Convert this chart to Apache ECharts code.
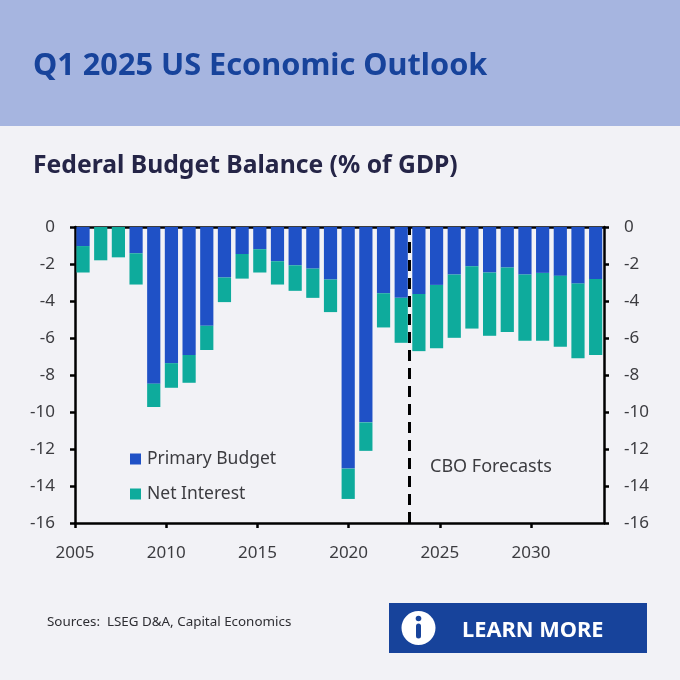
<!DOCTYPE html>
<html><head><meta charset="utf-8">
<style>html,body{margin:0;padding:0;background:#f2f2f6}#c{width:680px;height:680px}</style>
<script src="https://cdn.jsdelivr.net/npm/echarts@6/dist/echarts.min.js"></script>
</head><body><div id="c"></div>
<script>
const periods = ['b01','b02','b03','b04','b05','b06','b07','b08','b09','b10','b11','b12','b13','b14','b15','b16','b17','b18','b19','b20','b21','b22','b23','b24','b25','b26','b27','b28','b29','b30'];
const primaryBudget = [-1.03,0,0,-1.42,-8.47,-7.36,-6.92,-5.34,-2.73,-1.46,-1.2,-1.85,-2.07,-2.25,-2.84,-13.06,-10.56,-3.58,-3.83,-3.62,-3.13,-2.57,-2.12,-2.46,-2.19,-2.57,-2.48,-2.64,-3.06,-2.81];
const netInterest = [-1.43,-1.8,-1.64,-1.69,-1.26,-1.33,-1.5,-1.31,-1.33,-1.33,-1.26,-1.26,-1.38,-1.58,-1.76,-1.64,-1.54,-1.85,-2.43,-3.09,-3.42,-3.42,-3.37,-3.42,-3.48,-3.58,-3.67,-3.83,-4.03,-4.11];
const xTicks = [2005,2010,2015,2020,2025,2030];
const forecastStart = 2023.34;
const font = '"Noto Sans", sans-serif';
const txt = '#3c3c40', ink = '#000';
const chart = echarts.init(document.getElementById('c'), null, {renderer:'canvas'});
const axisLine = {show:true, onZero:false, lineStyle:{color:ink, width:2.5}};
chart.setOption({
  backgroundColor:'#f2f2f6',
  animation:false,
  grid:[
    {left:74.2, right:75.5, top:227, height:296},
    {left:75, right:76, top:227, height:296}
  ],
  legend:{
    left:125, top:442, orient:'vertical', itemWidth:11, itemHeight:11, itemGap:11,
    icon:'rect', selectedMode:false,
    data:['Primary Budget','Net Interest'],
    textStyle:{fontFamily:font, fontSize:17.5, color:txt, lineHeight:24, padding:[0,0,0,1]}
  },
  xAxis:[
    {type:'category', gridIndex:0, data:periods, show:false},
    {type:'value', gridIndex:1, min:2005, max:2034, position:'bottom', interval:5,
     splitLine:{show:false}, axisLine,
     axisTick:{show:true, length:5, inside:false, lineStyle:{color:ink,width:2.5}, customValues:xTicks},
     axisLabel:{fontFamily:font, fontSize:17, color:txt, margin:22, customValues:xTicks, formatter:v=>String(v)}},
    {type:'value', gridIndex:1, min:2005, max:2034, position:'top',
     splitLine:{show:false}, axisLine, axisTick:{show:false}, axisLabel:{show:false}}
  ],
  yAxis:[
    {type:'value', gridIndex:0, min:-16, max:0, interval:2, show:false},
    {type:'value', gridIndex:1, min:-16, max:0, interval:2, position:'left',
     splitLine:{show:false}, axisLine,
     axisTick:{show:true, length:5, lineStyle:{color:ink,width:2.5}},
     axisLabel:{fontFamily:font, fontSize:17, color:txt, margin:20}},
    {type:'value', gridIndex:1, min:-16, max:0, interval:2, position:'right',
     splitLine:{show:false}, axisLine,
     axisTick:{show:true, length:5, lineStyle:{color:ink,width:2.5}},
     axisLabel:{fontFamily:font, fontSize:17, color:txt, margin:20}}
  ],
  series:[
    {name:'Primary Budget', type:'bar', stack:'b', xAxisIndex:0, yAxisIndex:0, data:primaryBudget, barWidth:13.2, itemStyle:{color:'#1f51c6'}},
    {name:'Net Interest', type:'bar', stack:'b', xAxisIndex:0, yAxisIndex:0, data:netInterest, barWidth:13.2, itemStyle:{color:'#0eab9c'}},
    {name:'forecast', type:'line', xAxisIndex:1, yAxisIndex:1, data:[], silent:true, z:5,
     markLine:{silent:true, symbol:'none', animation:false, label:{show:false},
       lineStyle:{color:'#000', width:3, type:[11,7]},
       data:[{xAxis:forecastStart}]}}
  ],
  graphic:[
    {type:'rect', z:-1, shape:{x:0,y:0,width:680,height:126}, style:{fill:'#a6b5e0'}},
    {type:'text', left:33, top:51, style:{text:'Q1 2025 US Economic Outlook', fontFamily:font, fontWeight:700, fontSize:30.7, fill:'#17439b'}},
    {type:'text', left:33, top:153, style:{text:'Federal Budget Balance (% of GDP)', fontFamily:font, fontWeight:700, fontSize:24.7, fill:'#252547'}},
    {type:'text', left:430, top:458, style:{text:'CBO Forecasts', fontFamily:font, fontSize:18, fill:txt}},
    {type:'text', left:47, top:616, style:{text:'Sources:  LSEG D&A, Capital Economics', fontFamily:font, fontSize:13.4, fill:'#2e2e33'}},
    {type:'rect', shape:{x:389,y:603,width:258,height:50}, style:{fill:'#17439b'}},
    {type:'circle', shape:{cx:418.5,cy:628,r:17}, style:{fill:'#fff'}},
    {type:'circle', shape:{cx:418.5,cy:618.5,r:2.8}, style:{fill:'#17439b'}},
    {type:'rect', shape:{x:416,y:623.5,width:5,height:15,r:2.5}, style:{fill:'#17439b'}},
    {type:'text', left:462, top:619.5, style:{text:'LEARN MORE', fontFamily:font, fontWeight:700, fontSize:21.8, fill:'#fff'}}
  ]
});
</script></body></html>
